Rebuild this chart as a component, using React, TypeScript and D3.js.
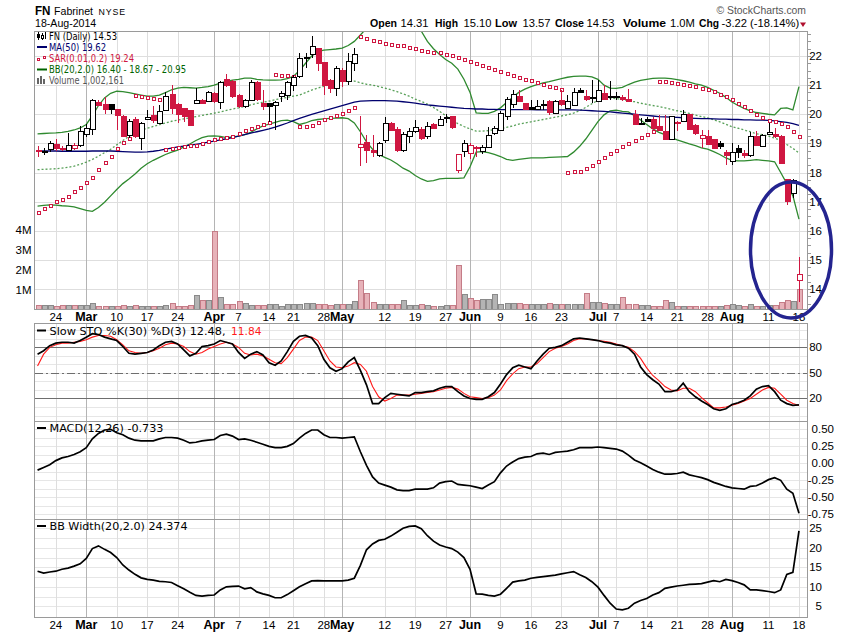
import React from 'react';
import * as d3 from 'd3';

// daily bars, 19-Feb-2014 .. 18-Aug-2014
const opens = [18.77, 18.74, 18.79, 18.98, 18.85, 18.79, 18.83, 18.95, 19.32, 19.5, 20.43, 20.35, 20.35, 20.17, 19.95, 19.3, 19.85, 19.2, 19.83, 19.96, 19.72, 20.13, 20.69, 20.36, 20.22, 20.13, 20.37, 20.49, 20.47, 20.74, 20.43, 21.2, 21.15, 20.66, 20.27, 20.49, 21.12, 20.38, 20.37, 20.3, 20.6, 20.67, 20.99, 21.3, 21.92, 22.05, 22.27, 21.79, 21.19, 20.92, 21.53, 21.15, 21.76, 18.87, 19.04, 18.78, 18.61, 19.1, 19.7, 19.49, 18.78, 19.24, 19.41, 19.49, 19.24, 19.66, 19.62, 19.88, 19.93, 18.07, 18.72, 18.67, 18.87, 18.72, 18.9, 19.35, 19.47, 19.93, 20.36, 20.64, 20.38, 20.25, 20.19, 20.36, 20.47, 20.02, 20.49, 20.21, 20.3, 20.84, 20.64, 20.56, 20.44, 20.73, 20.62, 20.64, 20.58, 20.53, 20.0, 19.7, 19.85, 19.83, 19.6, 19.43, 19.13, 19.75, 19.75, 20.0, 19.64, 19.18, 19.27, 19.15, 19.0, 18.7, 18.4, 18.84, 18.67, 18.59, 19.24, 18.93, 19.3, 19.32, 19.27, 17.77, 17.3, 14.31];
const highs = [18.9, 18.85, 19.07, 19.16, 18.9, 19.35, 19.0, 19.58, 19.66, 20.53, 20.49, 20.6, 20.36, 20.19, 19.98, 19.85, 19.9, 19.75, 20.15, 20.3, 20.33, 20.75, 21.0, 20.38, 20.23, 20.14, 20.91, 20.52, 20.8, 20.76, 21.15, 21.38, 21.17, 20.68, 20.52, 21.18, 21.14, 20.84, 20.4, 20.45, 20.8, 21.15, 21.35, 22.1, 22.1, 22.68, 22.28, 21.8, 21.2, 21.65, 21.6, 22.1, 22.27, 19.93, 19.3, 19.3, 19.05, 19.9, 19.72, 19.55, 19.4, 19.53, 19.81, 19.55, 19.75, 19.7, 19.93, 20.0, 19.95, 18.63, 19.12, 19.0, 18.9, 18.93, 19.55, 19.6, 20.1, 20.6, 20.84, 20.84, 20.4, 20.5, 20.5, 20.5, 20.48, 20.5, 20.84, 20.66, 20.9, 20.9, 20.84, 21.18, 21.18, 21.01, 21.15, 20.78, 20.67, 20.88, 20.15, 19.87, 19.92, 19.92, 19.98, 19.98, 19.95, 19.76, 20.15, 20.02, 19.66, 19.47, 19.47, 19.16, 19.09, 18.78, 19.0, 18.95, 18.78, 19.39, 19.41, 19.32, 19.7, 19.53, 19.3, 17.78, 17.78, 15.1];
const lows = [18.55, 18.6, 18.7, 18.75, 18.75, 18.75, 18.76, 18.88, 19.23, 19.29, 20.28, 20.0, 20.0, 19.45, 19.22, 19.2, 19.2, 18.78, 19.8, 19.7, 19.7, 20.1, 20.0, 19.7, 19.75, 19.6, 20.35, 20.35, 20.45, 20.4, 20.17, 20.95, 20.55, 20.2, 20.2, 20.45, 20.45, 20.13, 19.75, 19.45, 20.42, 20.5, 20.8, 21.25, 21.6, 21.93, 21.47, 20.67, 20.73, 20.61, 20.95, 21.01, 21.47, 18.21, 18.32, 18.55, 18.55, 19.0, 19.45, 18.7, 18.7, 19.0, 19.35, 19.1, 19.15, 19.48, 19.58, 19.7, 19.5, 18.0, 18.55, 18.47, 18.55, 18.65, 18.88, 19.3, 19.43, 19.8, 20.2, 20.45, 20.15, 20.15, 20.15, 20.15, 19.96, 20.0, 20.3, 20.18, 20.27, 20.72, 20.47, 20.4, 20.42, 20.5, 20.5, 20.5, 20.45, 20.42, 19.64, 19.63, 19.72, 19.47, 19.43, 19.12, 19.1, 19.42, 19.73, 19.45, 19.3, 18.84, 18.95, 18.8, 18.82, 18.27, 18.27, 18.5, 18.5, 18.55, 18.9, 18.9, 19.28, 19.18, 18.3, 16.9, 17.12, 13.57];
const closes = [18.74, 18.75, 19.0, 18.83, 18.8, 18.96, 18.94, 19.42, 19.53, 20.5, 20.34, 20.18, 20.19, 19.98, 19.27, 19.78, 19.26, 19.7, 19.9, 19.78, 20.12, 20.62, 20.2, 20.02, 19.93, 19.6, 20.49, 20.38, 20.77, 20.45, 21.12, 20.98, 20.62, 20.27, 20.49, 21.12, 20.52, 20.26, 20.27, 20.42, 20.72, 21.1, 21.28, 21.93, 21.95, 22.33, 21.76, 21.01, 20.9, 21.59, 21.15, 21.82, 22.07, 18.97, 18.78, 18.72, 19.01, 19.7, 19.47, 18.78, 19.32, 19.41, 19.55, 19.18, 19.58, 19.53, 19.83, 19.9, 19.55, 18.63, 19.01, 18.95, 18.82, 18.87, 19.3, 19.52, 20.04, 20.52, 20.69, 20.47, 20.18, 20.19, 20.3, 20.32, 20.08, 20.44, 20.35, 20.44, 20.75, 20.76, 20.53, 20.6, 20.82, 20.52, 20.6, 20.62, 20.5, 20.47, 19.64, 19.68, 19.78, 19.53, 19.47, 19.16, 19.93, 19.72, 20.0, 19.5, 19.35, 19.3, 19.0, 18.84, 18.9, 18.59, 18.7, 18.71, 18.61, 19.24, 18.93, 19.3, 19.38, 19.24, 18.36, 17.03, 17.75, 14.53];
const prevClose = 18.8;

// volume, millions of shares
const volumes = [0.22, 0.25, 0.25, 0.18, 0.22, 0.22, 0.25, 0.25, 0.22, 0.35, 0.17, 0.2, 0.17, 0.17, 0.25, 0.17, 0.22, 0.2, 0.17, 0.18, 0.18, 0.22, 0.35, 0.17, 0.17, 0.22, 0.72, 0.47, 0.47, 3.92, 0.63, 0.3, 0.3, 0.42, 0.35, 0.25, 0.22, 0.22, 0.3, 0.27, 0.18, 0.3, 0.27, 0.27, 0.33, 0.33, 0.3, 0.3, 0.22, 0.3, 0.3, 0.3, 0.42, 1.47, 0.85, 0.38, 0.3, 0.27, 0.27, 0.3, 0.47, 0.22, 0.22, 0.27, 0.22, 0.18, 0.18, 0.22, 0.22, 2.22, 0.77, 0.6, 0.47, 0.55, 0.55, 0.8, 0.3, 0.35, 0.35, 0.35, 0.27, 0.3, 0.3, 0.3, 0.33, 0.3, 0.27, 0.3, 0.3, 0.27, 0.83, 0.38, 0.38, 0.33, 0.27, 0.27, 0.63, 0.27, 0.3, 0.22, 0.22, 0.18, 0.18, 0.47, 0.38, 0.18, 0.17, 0.17, 0.18, 0.18, 0.18, 0.18, 0.17, 0.25, 0.27, 0.22, 0.17, 0.27, 0.17, 0.18, 0.22, 0.22, 0.38, 0.47, 0.42, 1.002];

const ma50 = [18.74, 18.74, 18.74, 18.74, 18.73, 18.73, 18.73, 18.73, 18.73, 18.74, 18.74, 18.74, 18.74, 18.73, 18.72, 18.71, 18.7, 18.7, 18.71, 18.73, 18.76, 18.8, 18.84, 18.88, 18.91, 18.94, 18.97, 19.0, 19.04, 19.08, 19.12, 19.16, 19.2, 19.25, 19.3, 19.35, 19.4, 19.45, 19.5, 19.56, 19.63, 19.7, 19.78, 19.86, 19.93, 20.0, 20.06, 20.12, 20.18, 20.24, 20.3, 20.36, 20.42, 20.45, 20.46, 20.47, 20.47, 20.47, 20.46, 20.45, 20.43, 20.41, 20.38, 20.35, 20.32, 20.3, 20.28, 20.26, 20.24, 20.22, 20.2, 20.19, 20.18, 20.18, 20.17, 20.17, 20.16, 20.16, 20.16, 20.16, 20.16, 20.16, 20.15, 20.15, 20.15, 20.15, 20.15, 20.15, 20.15, 20.14, 20.13, 20.12, 20.11, 20.1, 20.08, 20.06, 20.04, 20.02, 20.0, 19.98, 19.96, 19.94, 19.92, 19.91, 19.9, 19.89, 19.88, 19.87, 19.86, 19.85, 19.85, 19.84, 19.83, 19.83, 19.82, 19.82, 19.81, 19.81, 19.8, 19.8, 19.79, 19.77, 19.75, 19.72, 19.68, 19.62];

const sar = [16.66, 16.77, 16.9, 17.02, 17.1, 17.21, 17.35, 17.5, 17.66, 17.85, 18.13, 18.37, 18.58, 18.83, 19.04, 19.18, 20.66, 20.62, 20.58, 20.55, 20.53, 18.82, 18.84, 18.87, 18.9, 18.93, 18.95, 19.01, 19.07, 19.15, 19.18, 19.21, 19.27, 19.37, 19.45, 19.53, 19.58, 19.67, 19.72, 21.38, 21.36, 21.34, 21.32, 19.58, 19.58, 19.64, 19.72, 19.83, 19.89, 19.98, 20.06, 20.13, 20.24, 22.68, 22.6, 22.56, 22.53, 22.46, 22.42, 22.39, 22.37, 22.31, 22.26, 22.22, 22.18, 22.15, 22.12, 22.07, 22.03, 21.97, 21.9, 21.84, 21.77, 21.7, 21.63, 21.56, 21.5, 21.42, 21.35, 21.29, 21.22, 21.16, 21.1, 21.05, 20.98, 20.92, 20.86, 18.01, 18.04, 18.06, 18.17, 18.27, 18.38, 18.52, 18.66, 18.78, 18.9, 19.0, 19.12, 19.22, 19.32, 19.42, 21.15, 21.13, 21.1, 21.07, 21.04, 21.0, 20.96, 20.91, 20.86, 20.79, 20.71, 20.62, 20.51, 20.4, 20.27, 20.14, 20.02, 19.92, 19.82, 19.76, 19.71, 19.58, 19.42, 19.24];

const bbUpper = [19.33, 19.34, 19.35, 19.36, 19.38, 19.41, 19.46, 19.53, 19.65, 19.95, 20.3, 20.56, 20.72, 20.79, 20.78, 20.74, 20.7, 20.66, 20.62, 20.62, 20.66, 20.74, 20.84, 20.9, 20.92, 20.91, 20.9, 20.92, 20.95, 21.0, 21.07, 21.13, 21.17, 21.2, 21.24, 21.24, 21.2, 21.18, 21.17, 21.17, 21.18, 21.22, 21.3, 21.5, 21.75, 22.0, 22.15, 22.2, 22.22, 22.24, 22.27, 22.36, 22.5, 22.72, 22.95, 23.2, 23.35, 23.45, 23.5, 23.5, 23.45, 23.3, 23.1, 22.85, 22.5, 22.25, 22.05, 21.88, 21.75, 21.55, 21.2, 20.75, 20.05, 20.03, 20.03, 20.1, 20.22, 20.4, 20.58, 20.75, 20.86, 20.95, 21.02, 21.08, 21.12, 21.17, 21.22, 21.27, 21.3, 21.31, 21.31, 21.28, 21.2, 21.0, 20.9, 20.89, 20.92, 21.02, 21.1, 21.16, 21.2, 21.23, 21.24, 21.24, 21.22, 21.19, 21.15, 21.1, 21.04, 21.0, 20.92, 20.82, 20.72, 20.58, 20.42, 20.3, 20.2, 20.12, 20.06, 20.03, 20.0, 19.98, 20.2, 20.22, 20.15, 20.95];
const bbMiddle = [18.1, 18.11, 18.12, 18.13, 18.15, 18.18, 18.22, 18.28, 18.36, 18.45, 18.56, 18.68, 18.8, 18.95, 19.1, 19.24, 19.35, 19.45, 19.52, 19.58, 19.64, 19.7, 19.76, 19.8, 19.84, 19.88, 19.92, 19.96, 20.0, 20.04, 20.08, 20.13, 20.18, 20.22, 20.27, 20.32, 20.37, 20.41, 20.45, 20.5, 20.54, 20.58, 20.62, 20.66, 20.74, 20.83, 20.9, 20.96, 21.02, 21.07, 21.12, 21.15, 21.14, 21.08, 21.03, 21.0, 20.95, 20.9, 20.84, 20.78, 20.7, 20.62, 20.52, 20.44, 20.35, 20.23, 20.1, 19.95, 19.8, 19.68, 19.58, 19.5, 19.42, 19.42, 19.44, 19.47, 19.5, 19.55, 19.6, 19.66, 19.7, 19.74, 19.78, 19.82, 19.86, 19.9, 19.94, 19.98, 20.04, 20.12, 20.24, 20.36, 20.48, 20.53, 20.55, 20.54, 20.5, 20.46, 20.43, 20.38, 20.34, 20.3, 20.27, 20.22, 20.17, 20.12, 20.08, 20.03, 19.97, 19.92, 19.88, 19.81, 19.74, 19.66, 19.57, 19.52, 19.46, 19.4, 19.33, 19.3, 19.25, 19.18, 19.1, 18.96, 18.83, 18.67];
const bbLower = [16.85, 16.87, 16.89, 16.88, 16.86, 16.85, 16.82, 16.76, 16.7, 16.67, 16.8, 16.98, 17.2, 17.42, 17.62, 17.78, 17.95, 18.15, 18.3, 18.42, 18.52, 18.62, 18.7, 18.77, 18.88, 18.98, 19.1, 19.2, 19.25, 19.26, 19.24, 19.2, 19.22, 19.25, 19.3, 19.38, 19.5, 19.6, 19.66, 19.72, 19.78, 19.8, 19.75, 19.65, 19.7, 19.78, 19.82, 19.84, 19.86, 19.87, 19.88, 19.85, 19.7, 19.4, 19.05, 18.8, 18.62, 18.52, 18.43, 18.3, 18.15, 18.05, 17.9, 17.78, 17.7, 17.72, 17.78, 17.8, 17.8, 17.8, 17.82, 18.2, 18.7, 18.72, 18.68, 18.62, 18.55, 18.45, 18.42, 18.45, 18.48, 18.5, 18.5, 18.5, 18.52, 18.53, 18.54, 18.55, 18.7, 18.9, 19.15, 19.45, 19.75, 19.98, 20.12, 20.14, 20.1, 20.08, 19.95, 19.8, 19.65, 19.5, 19.38, 19.3, 19.2, 19.12, 19.05, 18.98, 18.92, 18.85, 18.8, 18.72, 18.62, 18.5, 18.42, 18.4, 18.4, 18.42, 18.44, 18.42, 18.4, 18.37, 18.0, 17.62, 17.2, 16.4];

const stoK = [72, 76, 82, 85, 86, 86, 85, 88, 92, 96, 95, 92, 90, 88, 81, 73, 72, 73, 74, 77, 82, 86, 87, 84, 77, 70, 73, 81, 82, 84, 88, 86, 84, 74, 67, 72, 75, 71, 62, 59, 64, 75, 87, 93, 94, 91, 82, 66, 56, 52, 55, 63, 68, 53, 36, 14, 14, 21, 26, 25, 24, 23, 27, 27, 28, 29, 32, 34, 34, 28, 23, 20, 19, 19, 22, 27, 37, 48, 56, 59, 57, 55, 64, 72, 79, 80, 82, 86, 90, 91, 90, 89, 88, 86, 85, 83, 82, 79, 72, 57, 48, 42, 37, 28, 28, 30, 38, 28, 22, 17, 13, 8, 6, 8, 13, 15, 18, 23, 31, 34, 35, 28, 18, 14, 12, 12.48];
const stoD = [58, 72, 80, 83, 85, 85, 86, 87, 89, 92, 94, 94, 93, 89, 83, 76, 74, 73, 74, 76, 79, 83, 85, 84, 81, 75, 72, 74, 78, 81, 84, 86, 84, 80, 73, 71, 72, 70, 66, 62, 61, 68, 78, 88, 92, 92, 88, 76, 64, 57, 56, 58, 62, 60, 52, 34, 22, 17, 20, 24, 24, 24, 25, 26, 27, 28, 30, 32, 33, 31, 26, 22, 21, 20, 21, 24, 30, 41, 49, 55, 57, 57, 61, 68, 75, 79, 81, 84, 88, 90, 90, 89, 88, 87, 86, 84, 82, 80, 75, 67, 56, 47, 41, 34, 30, 29, 32, 32, 28, 21, 15, 9, 9, 10, 12, 14, 17, 20, 25, 30, 33, 32, 25, 18, 14, 11.84];

const macd = [-0.1, -0.06, -0.02, 0.04, 0.08, 0.1, 0.13, 0.17, 0.23, 0.36, 0.44, 0.49, 0.5, 0.45, 0.42, 0.37, 0.34, 0.33, 0.33, 0.33, 0.36, 0.38, 0.38, 0.37, 0.34, 0.3, 0.31, 0.33, 0.34, 0.35, 0.41, 0.43, 0.4, 0.35, 0.36, 0.34, 0.31, 0.28, 0.25, 0.23, 0.23, 0.25, 0.29, 0.37, 0.44, 0.49, 0.49, 0.42, 0.38, 0.38, 0.37, 0.38, 0.39, 0.17, -0.03, -0.2, -0.29, -0.32, -0.35, -0.39, -0.4, -0.4, -0.38, -0.38, -0.38, -0.36, -0.29, -0.27, -0.26, -0.31, -0.32, -0.33, -0.35, -0.37, -0.32, -0.27, -0.14, -0.04, 0.02, 0.07, 0.09, 0.1, 0.14, 0.15, 0.13, 0.16, 0.17, 0.18, 0.2, 0.23, 0.23, 0.23, 0.24, 0.23, 0.22, 0.21, 0.18, 0.12, 0.05, 0.01, -0.04, -0.09, -0.13, -0.16, -0.16, -0.15, -0.13, -0.17, -0.19, -0.21, -0.24, -0.28, -0.31, -0.34, -0.36, -0.37, -0.38, -0.34, -0.33, -0.29, -0.24, -0.21, -0.25, -0.38, -0.44, -0.733];

const bbWidth = [14.0, 13.5, 13.8, 14.0, 14.5, 14.8, 15.3, 15.9, 17.3, 19.8, 20.5, 19.6, 18.8, 17.5, 15.6, 14.3, 13.2, 12.3, 11.9, 11.7, 11.4, 11.3, 11.1, 10.3, 9.5, 8.6, 7.8, 7.6, 7.8, 7.9, 9.2, 10.0, 10.1, 10.2, 9.5, 9.8, 8.7, 8.2, 7.8, 7.2, 7.2, 8.0, 9.0, 10.0, 10.8, 11.5, 11.6, 11.5, 11.5, 11.5, 11.5, 11.7, 12.2, 15.5, 19.5, 21.0, 21.9, 22.2, 23.0, 24.0, 25.0, 25.5, 25.6, 24.9, 23.1, 21.7, 20.7, 20.2, 19.8, 18.9, 17.5, 14.5, 8.2, 8.1, 7.8, 7.6, 8.1, 9.6, 11.2, 11.5, 11.7, 12.2, 12.4, 12.6, 12.8, 13.0, 13.3, 13.6, 13.9, 13.1, 12.4, 11.3, 9.9, 7.8, 5.8, 4.3, 4.1, 4.5, 5.8, 6.5, 7.0, 7.9, 8.5, 9.6, 9.9, 10.2, 10.4, 10.6, 10.7, 10.8, 11.2, 11.6, 11.3, 11.9, 11.6, 11.1, 10.5, 9.2, 9.2, 9.0, 8.8, 8.5, 9.2, 13.2, 13.7, 24.374];

const tickIndex = [3, 8, 13, 18, 23, 29, 33, 38, 42, 47, 50, 57, 62, 67, 71, 76, 81, 86, 92, 95, 100, 105, 110, 114, 120, 125];
const tickLabels = ['24', 'Mar', '10', '17', '24', 'Apr', '7', '14', '21', '28', 'May', '12', '19', '27', 'Jun', '9', '16', '23', 'Jul', '7', '14', '21', '28', 'Aug', '11', '18'];
const priceTicks = [14, 15, 16, 17, 18, 19, 20, 21, 22];
const volumeTicks = [1, 2, 3, 4];
const stoTicks = [20, 50, 80];
const macdTicks = [0.5, 0.25, 0, -0.25, -0.5, -0.75];
const bbwTicks = [5, 10, 15, 20, 25];

const RED = '#cf1741';
const NAVY = '#00006e';
const GREEN = '#2f8a2f';
const AXIS_FONT = 'Liberation Sans, Arial, sans-serif';
const LEG_FONT = 'DejaVu Sans, Verdana, sans-serif';

const left = 34.5;
const right = 807.5;
const mainTop = 31.5;
const mainBottom = 309.5;
const stoTop = 323.5;
const stoBottom = 421.5;
const macdBottom = 519.5;
const bbwBottom = 617.5;

const x = d3.scaleLinear().domain([-0.5, 126.4]).range([left, right]);
const yPrice = d3.scaleLinear().domain([13.3, 22.84]).range([mainBottom, mainTop]);
const yVol = d3.scaleLinear().domain([0, 13.9]).range([mainBottom, mainTop]);
const ySto = d3.scaleLinear().domain([-7, 108]).range([stoBottom, stoTop]);
const yMacd = d3.scaleLinear().domain([-0.826, 0.615]).range([macdBottom, stoBottom]);
const yBbw = d3.scaleLinear().domain([2.13, 27.26]).range([bbwBottom, macdBottom]);

const px = (i: number) => Math.round(x(i)) + 0.5;

function linePath(values: number[], y: d3.ScaleLinear<number, number>) {
  return d3.line<number>().x((_, i) => x(i)).y(d => y(d))(values) || '';
}

function VGrid({ top, bottom }: { top: number; bottom: number }) {
  return (
    <g>
      {tickIndex.map((t, k) => {
        const month = /[A-Z]/.test(tickLabels[k]);
        return (
          <line key={k} x1={px(t)} x2={px(t)} y1={top} y2={bottom}
            stroke={month ? '#b4b4b4' : '#dedede'} strokeWidth={1} shapeRendering="crispEdges" />
        );
      })}
    </g>
  );
}

function DateLabels({ y }: { y: number }) {
  return (
    <g fontFamily={AXIS_FONT}>
      {tickIndex.map((t, k) => {
        const month = /[A-Z]/.test(tickLabels[k]);
        return (
          <text key={k} x={x(t)} y={y} textAnchor="middle" fontSize={month ? 12.5 : 11.5}
            fontWeight={month ? 'bold' : 'normal'} fill="#000">{tickLabels[k]}</text>
        );
      })}
    </g>
  );
}

// legend text squeezed to the widths seen on the chart
function Fit({ x0, y0, w, fill, size, children }: { x0: number; y0: number; w: number; fill: string; size: number; children: React.ReactNode }) {
  return (
    <text x={x0} y={y0} fontFamily={LEG_FONT} fontSize={size} fill={fill}
      textLength={w} lengthAdjust="spacingAndGlyphs">{children}</text>
  );
}

export default function App() {
  const candles = opens.map((o, i) => {
    const prev = i === 0 ? prevClose : closes[i - 1];
    const c = closes[i];
    return { i, o, h: highs[i], l: lows[i], c, down: c < prev, hollow: c >= o };
  });

  const minorPrice = d3.range(13.5, 22.8, 0.25);
  const stoGrid = d3.range(0, 101, 10);
  const macdGrid = d3.range(-0.75, 0.6, 0.125);
  const bbwGrid = d3.range(5, 27.5, 2.5);

  return (
    <svg width={850} height={633} style={{ position: 'absolute', left: 0, top: 0, background: '#fff' }}
      fontFamily={AXIS_FONT}>
      <defs>
        <clipPath id="clipMain"><rect x={left} y={mainTop} width={right - left} height={mainBottom - mainTop} /></clipPath>
        <clipPath id="clipSto"><rect x={left} y={stoTop} width={right - left} height={stoBottom - stoTop} /></clipPath>
        <clipPath id="clipMacd"><rect x={left} y={stoBottom} width={right - left} height={macdBottom - stoBottom} /></clipPath>
        <clipPath id="clipBbw"><rect x={left} y={macdBottom} width={right - left} height={bbwBottom - macdBottom} /></clipPath>
      </defs>
      <rect x={0} y={0} width={850} height={633} fill="#fff" />

      {/* header */}
      <text x={35} y={15} fontSize={13} fontWeight="bold" textLength={15.5} lengthAdjust="spacingAndGlyphs">FN</text>
      <text x={54} y={15} fontSize={10.8} textLength={39} lengthAdjust="spacingAndGlyphs">Fabrinet</text>
      <text x={98.5} y={15} fontSize={8.8} textLength={26.5} lengthAdjust="spacing">NYSE</text>
      <text x={35} y={26.5} fontSize={10.6}>18-Aug-2014</text>
      <text x={716.5} y={14} fontSize={10.8} fill="#555" textLength={89.5} lengthAdjust="spacingAndGlyphs">© StockCharts.com</text>
      <g fontSize={11.2}>
        <text x={370} y={26.5} fontWeight="bold" textLength={27} lengthAdjust="spacingAndGlyphs">Open</text>
        <text x={400.5} y={26.5}>14.31</text>
        <text x={435} y={26.5} fontWeight="bold" textLength={23} lengthAdjust="spacingAndGlyphs">High</text>
        <text x={463.5} y={26.5}>15.10</text>
        <text x={495} y={26.5} fontWeight="bold" textLength={22} lengthAdjust="spacingAndGlyphs">Low</text>
        <text x={522.5} y={26.5}>13.57</text>
        <text x={555} y={26.5} fontWeight="bold" textLength={29} lengthAdjust="spacingAndGlyphs">Close</text>
        <text x={586.5} y={26.5}>14.53</text>
        <text x={623} y={26.5} fontWeight="bold" textLength={43} lengthAdjust="spacingAndGlyphs">Volume</text>
        <text x={670} y={26.5}>1.0M</text>
        <text x={699} y={26.5} fontWeight="bold" textLength={20} lengthAdjust="spacingAndGlyphs">Chg</text>
        <text x={721.5} y={26.5}>-3.22 (-18.14%)</text>
      </g>
      <path d="M800,22.5 L806,22.5 L803,27 Z" fill="#b0102e" />

      {/* ===== main price panel ===== */}
      {priceTicks.map(p => (
        <line key={p} x1={left} x2={right} y1={Math.round(yPrice(p)) + 0.5} y2={Math.round(yPrice(p)) + 0.5}
          stroke="#dedede" shapeRendering="crispEdges" />
      ))}
      <VGrid top={mainTop} bottom={mainBottom} />

      <g clipPath="url(#clipMain)" shapeRendering="crispEdges">
        {candles.map(d => {
          const top = Math.round(yVol(volumes[d.i])) + 0.5;
          return (
            <rect key={d.i} x={px(d.i) - 2.5} y={top} width={5} height={Math.max(0, mainBottom - top)}
              fill={d.down ? '#e7b2b9' : '#b4b4b4'} stroke={d.down ? '#c47c87' : '#8a8a8a'} strokeWidth={1} />
          );
        })}
      </g>

      <g clipPath="url(#clipMain)" fill="none">
        <path d={linePath(bbUpper, yPrice)} stroke={GREEN} strokeWidth={1.3} />
        <path d={linePath(bbLower, yPrice)} stroke={GREEN} strokeWidth={1.3} />
        <path d={linePath(bbMiddle, yPrice)} stroke={GREEN} strokeWidth={1.3} strokeDasharray="2,2" opacity={0.8} />
        <path d={linePath(ma50, yPrice)} stroke={NAVY} strokeWidth={1.3} />
      </g>

      <g clipPath="url(#clipMain)" shapeRendering="crispEdges">
        {sar.map((s, i) => {
          const cy = Math.round(yPrice(s));
          return <rect key={i} x={px(i) - 1.5} y={cy - 1} width={3} height={3} fill="#fff" stroke={RED} strokeWidth={1} />;
        })}
      </g>

      <g clipPath="url(#clipMain)" shapeRendering="crispEdges">
        {candles.map(d => {
          const col = d.down ? RED : '#000';
          const cx = px(d.i);
          const yo = yPrice(d.o);
          const yc = yPrice(d.c);
          const top = Math.round(Math.min(yo, yc)) + 0.5;
          const h = Math.max(1, Math.round(Math.abs(yo - yc)));
          return (
            <g key={d.i}>
              <line x1={cx} x2={cx} y1={yPrice(d.h)} y2={yPrice(d.l)} stroke={col} strokeWidth={1} />
              <rect x={cx - 2.5} y={top} width={5} height={h} fill={d.hollow ? '#fff' : col} stroke={col} strokeWidth={1} />
            </g>
          );
        })}
      </g>

      <rect x={left} y={mainTop} width={right - left} height={mainBottom - mainTop} fill="none" stroke="#9a9a9a" shapeRendering="crispEdges" />
      {minorPrice.map((p, k) => (
        <line key={k} x1={right} x2={right + 3} y1={Math.round(yPrice(p)) + 0.5} y2={Math.round(yPrice(p)) + 0.5}
          stroke="#9a9a9a" shapeRendering="crispEdges" />
      ))}
      <g fontSize={11.5} textAnchor="end">
        {priceTicks.map(p => (
          <text key={p} x={822} y={yPrice(p) + 4}>{p}</text>
        ))}
        {volumeTicks.map(v => (
          <text key={v} x={31.5} y={yVol(v) + 4}>{v}M</text>
        ))}
      </g>

      {/* legend */}
      <g>
        <g stroke="#000" strokeWidth={1} shapeRendering="crispEdges">
          <line x1={38.5} x2={38.5} y1={32} y2={40} />
          <rect x={37.5} y={34.5} width={2} height={3} fill="#000" />
          <line x1={42.5} x2={42.5} y1={33} y2={40} />
          <rect x={41.5} y={35.5} width={2} height={3} fill="#fff" />
          <line x1={45.5} x2={45.5} y1={32} y2={39} />
        </g>
        <Fit x0={49} y0={39.8} w={68} fill="#000" size={10}>FN (Daily) 14.53</Fit>
        <line x1={37} x2={47} y1={47} y2={47} stroke={NAVY} strokeWidth={2} />
        <Fit x0={49} y0={50.8} w={57} fill={NAVY} size={10}>MA(50) 19.62</Fit>
        <rect x={37.5} y={58.5} width={2} height={2} fill="#fff" stroke={RED} />
        <rect x={43.5} y={56.5} width={2} height={2} fill="#fff" stroke={RED} />
        <Fit x0={49} y0={62} w={85} fill={RED} size={10}>SAR(0.01,0.2) 19.24</Fit>
        <line x1={37} x2={47} y1={69.5} y2={69.5} stroke="#006400" strokeWidth={2} />
        <Fit x0={49} y0={73} w={137} fill="#006400" size={10}>BB(20,2.0) 16.40 - 18.67 - 20.95</Fit>
        <g fill="#666" shapeRendering="crispEdges">
          <rect x={37} y={78} width={2} height={6} />
          <rect x={40} y={76} width={2} height={8} />
          <rect x={43} y={79} width={2} height={5} />
        </g>
        <Fit x0={49} y0={84} w={75} fill="#555" size={10}>Volume 1,002,161</Fit>
      </g>

      <DateLabels y={321} />

      {/* ===== slow stochastics ===== */}
      {stoGrid.map(v => (
        <line key={v} x1={left} x2={right} y1={Math.round(ySto(v)) + 0.5} y2={Math.round(ySto(v)) + 0.5}
          stroke="#e6e6e6" shapeRendering="crispEdges" />
      ))}
      <VGrid top={stoTop} bottom={stoBottom} />
      {stoTicks.map(v => (
        <line key={v} x1={left} x2={right} y1={Math.round(ySto(v)) + 0.5} y2={Math.round(ySto(v)) + 0.5}
          stroke="#6e6e6e" strokeDasharray={v === 50 ? '8,3,2,3' : undefined} shapeRendering="crispEdges" />
      ))}
      <g clipPath="url(#clipSto)" fill="none">
        <path d={linePath(stoD, ySto)} stroke="#ff1a1a" strokeWidth={1.1} />
        <path d={linePath(stoK, ySto)} stroke="#000" strokeWidth={1.7} />
      </g>
      <g fontSize={11.5} textAnchor="end">
        {stoTicks.map(v => <text key={v} x={822} y={ySto(v) + 4}>{v}</text>)}
      </g>
      <line x1={37} x2={46} y1={330.5} y2={330.5} stroke="#000" strokeWidth={2} />
      <Fit x0={49.5} y0={334.5} w={176} fill="#000" size={11}>Slow STO %K(30) %D(3) 12.48,</Fit>
      <Fit x0={231} y0={334.5} w={30.5} fill="#ff1a1a" size={11}>11.84</Fit>

      {/* ===== MACD ===== */}
      {macdGrid.map((v, k) => (
        <line key={k} x1={left} x2={right} y1={Math.round(yMacd(v)) + 0.5} y2={Math.round(yMacd(v)) + 0.5}
          stroke="#e6e6e6" shapeRendering="crispEdges" />
      ))}
      <VGrid top={stoBottom} bottom={macdBottom} />
      <g clipPath="url(#clipMacd)" fill="none">
        <path d={linePath(macd, yMacd)} stroke="#000" strokeWidth={1.7} />
      </g>
      <g fontSize={11.5} textAnchor="end">
        {macdTicks.map(v => <text key={v} x={834} y={yMacd(v) + 4}>{v.toFixed(2)}</text>)}
      </g>
      <line x1={37} x2={46} y1={428} y2={428} stroke="#000" strokeWidth={2} />
      <Fit x0={49.5} y0={432} w={114} fill="#000" size={11}>MACD(12,26) -0.733</Fit>

      {/* ===== BB width ===== */}
      {bbwGrid.map((v, k) => (
        <line key={k} x1={left} x2={right} y1={Math.round(yBbw(v)) + 0.5} y2={Math.round(yBbw(v)) + 0.5}
          stroke="#e6e6e6" shapeRendering="crispEdges" />
      ))}
      <VGrid top={macdBottom} bottom={bbwBottom} />
      <g clipPath="url(#clipBbw)" fill="none">
        <path d={linePath(bbWidth, yBbw)} stroke="#000" strokeWidth={1.7} />
      </g>
      <g fontSize={11.5} textAnchor="end">
        {bbwTicks.map(v => <text key={v} x={822} y={yBbw(v) + 4}>{v}</text>)}
      </g>
      <line x1={37} x2={46} y1={526} y2={526} stroke="#000" strokeWidth={2} />
      <Fit x0={49.5} y0={530} w={138} fill="#000" size={11}>BB Width(20,2.0) 24.374</Fit>

      {[stoTop, stoBottom, macdBottom].map((yy, k) => (
        <line key={k} x1={left} x2={right} y1={yy} y2={yy} stroke="#9a9a9a" shapeRendering="crispEdges" />
      ))}
      <rect x={left} y={stoTop} width={right - left} height={bbwBottom - stoTop} fill="none" stroke="#9a9a9a" shapeRendering="crispEdges" />

      <DateLabels y={628.5} />

      {/* annotation */}
      <ellipse cx={791} cy={250} rx={40.5} ry={68} fill="none" stroke="#24248f" strokeWidth={3.5} />
    </svg>
  );
}
